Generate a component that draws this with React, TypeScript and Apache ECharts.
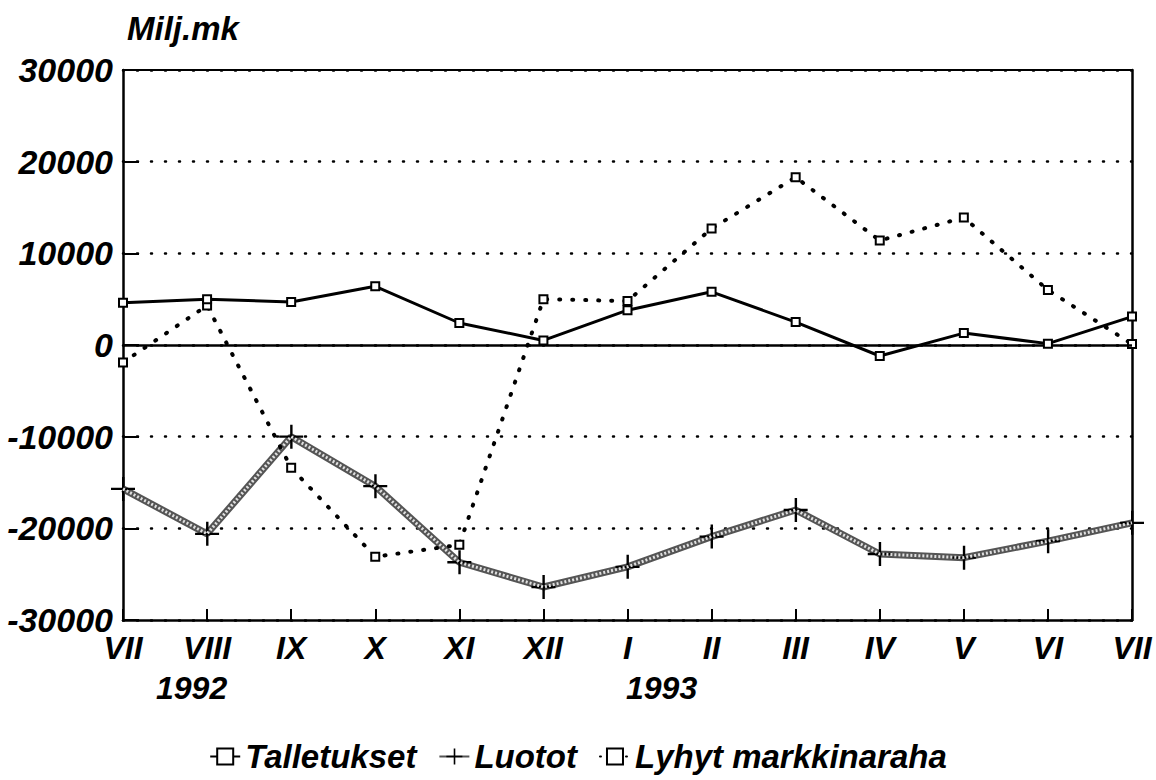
import React, { useEffect, useRef } from "react";
import * as echarts from "echarts";

const months = ["VII", "VIII", "IX", "X", "XI", "XII", "I", "II", "III", "IV", "V", "VI", "VII"];
const years = ["1992", "1993"];
const talletukset = [4600, 5000, 4700, 6400, 2400, 500, 3800, 5800, 2500, -1200, 1300, 150, 3100];
const luotot = [-15700, -20600, -10000, -15400, -23700, -26400, -24200, -20900, -18000, -22800, -23200, -21400, -19400];
const lyhyt = [-1900, 4300, -13400, -23100, -21800, 5000, 4800, 12700, 18300, 11400, 13900, 6000, 100];
const unitLabel = "Milj.mk";

const FONT = "'Liberation Sans', Arial, sans-serif";
const crossPath = "path://M11,0h2.4v24h-2.4zM0,10.8h24v2.4h-24z";

export default function App() {
  const ref = useRef<HTMLDivElement>(null);
  useEffect(() => {
    document.body.style.margin = "0";
    const chart = echarts.init(ref.current!, null, { renderer: "svg" });
    const txt = { fontFamily: FONT, fontWeight: "bold", fontStyle: "italic", color: "#000" } as any;
    chart.setOption({
      animation: false,
      backgroundColor: "#fff",
      grid: { left: 123, right: 24, top: 70, bottom: 160 },
      xAxis: [
        {
          type: "category",
          data: months,
          boundaryGap: false,
          position: "bottom",
          axisLine: { onZero: false, lineStyle: { color: "#000", width: 2.5 } },
          axisTick: { show: true, inside: true, length: 11, alignWithLabel: true, lineStyle: { color: "#000", width: 2 } },
          axisLabel: { ...txt, fontSize: 32, margin: 12, interval: 0 },
          splitLine: { show: false },
        },
        {
          type: "category",
          data: months,
          boundaryGap: false,
          position: "top",
          axisLine: { onZero: false, lineStyle: { color: "#000", width: 2 } },
          axisTick: { show: false },
          axisLabel: { show: false },
        },
      ],
      yAxis: [
        {
          type: "value",
          min: -30000,
          max: 30000,
          interval: 10000,
          axisLine: { show: true, onZero: false, lineStyle: { color: "#000", width: 2.5 } },
          axisTick: { show: true, inside: true, length: 16, lineStyle: { color: "#000", width: 2 } },
          axisLabel: { ...txt, fontSize: 34, margin: 10, formatter: (v: number) => String(v) },
          splitLine: { show: true, lineStyle: { color: "#000", width: 2.5, type: [1, 13], cap: "round" } },
        },
        {
          type: "value",
          min: -30000,
          max: 30000,
          interval: 10000,
          position: "right",
          axisLine: { show: true, onZero: false, lineStyle: { color: "#000", width: 2.5 } },
          axisTick: { show: false },
          axisLabel: { show: false },
          splitLine: { show: false },
        },
      ],
      legend: {
        data: ["Talletukset", "Luotot", "Lyhyt markkinaraha"],
        bottom: 2,
        left: "center",
        itemWidth: 30,
        itemHeight: 20,
        itemGap: 22,
        textStyle: { ...txt, fontSize: 33 },
      },
      graphic: [
        { type: "text", left: 127, top: 12, style: { text: unitLabel, font: `italic bold 33px ${FONT}`, fill: "#000" } },
        { type: "text", left: 156, top: 672, style: { text: years[0], font: `italic bold 32px ${FONT}`, fill: "#000" } },
        { type: "text", left: 626, top: 672, style: { text: years[1], font: `italic bold 32px ${FONT}`, fill: "#000" } },
      ],
      series: [
        {
          name: "Luotot",
          type: "line",
          data: luotot,
          symbol: crossPath,
          symbolSize: 24,
          itemStyle: { color: "#000" },
          lineStyle: { color: "#555", width: 7 },
          z: 2,
        },
        {
          name: "LuototPattern",
          type: "line",
          data: luotot,
          symbol: "none",
          silent: true,
          lineStyle: { color: "#e0e0e0", width: 3, type: [2, 2] },
          z: 3,
        },
        {
          name: "Talletukset",
          type: "line",
          data: talletukset,
          symbol: "emptyRect",
          symbolSize: 8,
          itemStyle: { color: "#000", borderWidth: 2 },
          lineStyle: { color: "#000", width: 3 },
          z: 5,
          markLine: {
            silent: true,
            symbol: "none",
            label: { show: false },
            lineStyle: { color: "#000", type: "solid", width: 2.5 },
            data: [{ yAxis: 0 }],
          },
        },
        {
          name: "Lyhyt markkinaraha",
          type: "line",
          data: lyhyt,
          symbol: "emptyRect",
          symbolSize: 8,
          itemStyle: { color: "#000", borderWidth: 2 },
          lineStyle: { color: "#000", width: 4, type: [1, 12], cap: "round" },
          z: 4,
        },
      ],
    });
    return () => chart.dispose();
  }, []);
  return <div ref={ref} style={{ width: 1156, height: 780 }} />;
}
